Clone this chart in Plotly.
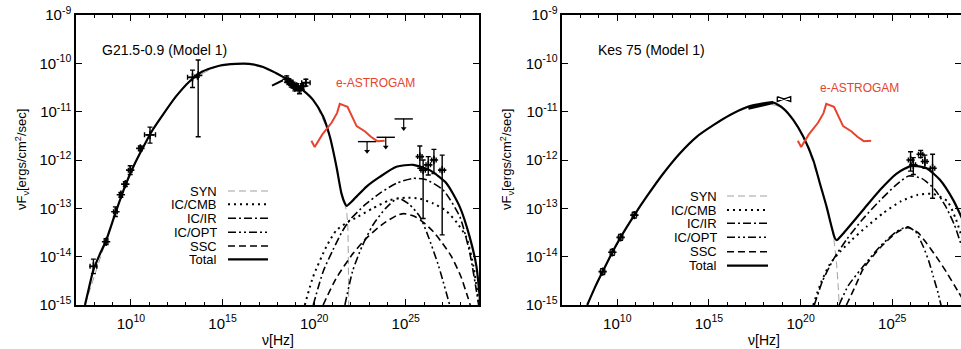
import numpy as np
import plotly.graph_objects as go

# ================= G21.5-0.9 (left panel), values as log10 =================
g21_total_lognu = [7.49, 7.7, 7.95, 8.3, 8.64, 9.15, 9.7, 10.18, 10.73, 11.18, 11.73, 12.45, 13.18, 13.9,
                   14.82, 15.73, 16.45, 17.18, 17.91, 18.3, 18.8, 19.4, 19.95, 20.49, 20.86, 21.22, 21.49,
                   21.68, 21.77, 22.13, 22.86, 23.58, 24.49, 25.4, 26.31, 27.22, 27.95, 28.49, 28.86, 29.1]
g21_total_logF = [-15.0, -14.66, -14.27, -13.95, -13.67, -13.1, -12.52, -12.1, -11.69, -11.38, -11.07, -10.69,
                  -10.38, -10.17, -10.05, -10.01, -10.01, -10.07, -10.2, -10.28, -10.4, -10.56, -10.76, -11.10,
                  -11.52, -12.14, -12.69, -12.90, -12.95, -12.83, -12.55, -12.35, -12.14, -12.10, -12.21, -12.48,
                  -12.97, -13.59, -14.2, -15.1]
g21_syn_lognu = [7.49, 8.64, 9.7, 10.73, 11.73, 13.18, 14.82, 16.45, 17.91, 18.8, 19.95, 20.86, 21.22, 21.49,
                 21.68, 21.78, 21.84, 21.87, 21.89]
g21_syn_logF = [-15.0, -13.67, -12.52, -11.69, -11.07, -10.38, -10.05, -10.01, -10.2, -10.4, -10.76, -11.52,
                -12.14, -12.69, -12.92, -13.1, -13.4, -14.2, -15.1]
g21_cmb_lognu = [19.49, 19.95, 20.67, 21.22, 21.77, 22.4, 23.2, 24.13, 25.0, 25.76, 26.5, 27.2, 27.8, 28.31, 28.7, 29.0]
g21_cmb_logF = [-15.0, -14.41, -13.79, -13.45, -13.3, -13.17, -13.0, -12.83, -12.78, -12.8, -12.9, -13.05, -13.3,
                -13.6, -14.2, -15.0]
g21_ir_lognu = [19.95, 20.5, 21.04, 21.5, 21.95, 22.8, 23.58, 24.5, 25.4, 26.13, 27.04, 27.95, 28.5, 28.9, 29.1]
g21_ir_logF = [-15.0, -14.3, -13.85, -13.5, -13.24, -12.92, -12.69, -12.48, -12.38, -12.41, -12.62, -13.17,
               -13.93, -14.8, -15.3]
g21_opt_lognu = [21.68, 22.1, 22.6, 23.2, 23.9, 24.58, 25.2, 25.77, 26.2, 26.8, 27.4]
g21_opt_logF = [-15.0, -14.3, -13.8, -13.35, -13.0, -12.79, -12.92, -13.17, -13.55, -14.2, -15.0]
g21_ssc_lognu = [20.49, 21.2, 22.13, 22.9, 23.76, 24.5, 24.9, 25.5, 26.0, 26.5, 27.0, 27.5, 28.0, 28.4, 28.6]
g21_ssc_logF = [-15.0, -14.45, -13.93, -13.6, -13.32, -13.15, -13.11, -13.17, -13.3, -13.48, -13.72, -14.0,
                -14.4, -14.85, -15.1]

# measured points (radio/IR/optical)
g21_pts_lognu = [7.95, 8.64, 9.15, 9.45, 9.69, 9.96, 10.51, 11.04, 13.36, 13.67]
g21_pts_logF = [-14.2, -13.69, -13.07, -12.72, -12.5, -12.21, -11.76, -11.48, -10.29, -10.25]
g21_pts_logF_lo = [-14.35, -13.75, -13.17, -12.77, -12.55, -12.3, -11.81, -11.65, -10.5, -11.52]
g21_pts_logF_hi = [-14.05, -13.63, -12.97, -12.67, -12.45, -12.12, -11.71, -11.32, -10.14, -9.93]
g21_pts_lognu_err = [0.18, 0.1, 0.1, 0.08, 0.08, 0.1, 0.08, 0.3, 0.27, 0.05]
# X-ray points
g21_x_lognu = [18.5, 18.62, 18.75, 18.85, 18.95, 19.05, 19.2, 19.35, 19.55]
g21_x_logF = [-10.33, -10.38, -10.42, -10.45, -10.5, -10.48, -10.55, -10.48, -10.4]
g21_x_logF_err = [0.07, 0.06, 0.07, 0.06, 0.07, 0.06, 0.08, 0.06, 0.07]
g21_x_lognu_err = [0.08, 0.08, 0.08, 0.08, 0.08, 0.08, 0.08, 0.08, 0.23]
g21_xbow_lognu = [17.7, 18.3]
g21_xbow_logF = [-10.46, -10.35]
# gamma-ray points
g21_g_lognu = [25.77, 25.95, 26.23, 26.54, 26.99]
g21_g_logF = [-11.93, -12.21, -12.10, -12.0, -12.21]
g21_g_logF_lo = [-12.17, -13.21, -12.31, -12.28, -13.55]
g21_g_logF_hi = [-11.71, -12.0, -11.93, -11.78, -11.9]
# upper limits
g21_ul_lognu = [22.89, 23.91, 24.89]
g21_ul_logF = [-11.62, -11.53, -11.15]

# ================= Kes 75 (right panel), values as log10 =================
kes_total_lognu = [8.36, 8.8, 9.2, 9.73, 10.18, 10.93, 11.6, 12.51, 13.42, 14.33, 15.24, 16.15, 17.05, 17.96,
                   18.51, 19.05, 19.6, 20.15, 20.69, 21.05, 21.42, 21.69, 21.87, 21.97, 22.33, 23.42, 24.33,
                   25.24, 26.05, 26.87, 27.6, 28.33, 28.8]
kes_total_logF = [-15.0, -14.62, -14.31, -13.91, -13.6, -13.14, -12.76, -12.28, -11.86, -11.52, -11.28, -11.07,
                  -10.91, -10.83, -10.81, -10.93, -11.17, -11.52, -12.0, -12.48, -12.97, -13.38, -13.62, -13.66,
                  -13.52, -13.03, -12.62, -12.28, -12.12, -12.17, -12.41, -12.83, -13.2]
kes_syn_lognu = [8.36, 9.73, 10.93, 12.51, 14.33, 16.15, 17.96, 19.05, 20.15, 21.05, 21.42, 21.69, 21.8, 21.95,
                 22.05, 22.12]
kes_syn_logF = [-15.0, -13.91, -13.14, -12.28, -11.52, -11.07, -10.83, -10.93, -11.52, -12.48, -12.97, -13.38,
                -13.6, -14.1, -14.6, -15.1]
kes_cmb_lognu = [20.69, 21.1, 21.6, 22.15, 22.8, 23.6, 24.5, 25.5, 26.4, 27.2, 28.0, 28.45, 28.8]
kes_cmb_logF = [-15.0, -14.55, -14.15, -13.9, -13.65, -13.38, -13.1, -12.85, -12.72, -12.7, -12.85, -13.2, -13.6]
kes_ir_lognu = [20.75, 21.2, 21.8, 22.5, 23.4, 24.3, 25.2, 25.9, 26.6, 27.3, 27.9, 28.4, 28.8]
kes_ir_logF = [-15.0, -14.5, -14.05, -13.65, -13.22, -12.85, -12.52, -12.33, -12.38, -12.6, -12.95, -13.35, -13.8]
kes_opt_lognu = [22.1, 22.6, 23.42, 24.33, 25.24, 25.84, 26.3, 26.69, 27.0, 27.24, 27.5, 27.69]
kes_opt_logF = [-15.0, -14.6, -14.2, -13.79, -13.48, -13.38, -13.5, -13.79, -14.1, -14.41, -14.75, -15.05]
kes_ssc_lognu = [22.5, 23.0, 23.42, 24.33, 25.24, 25.84, 26.4, 26.87, 27.4, 27.96, 28.4, 28.8]
kes_ssc_logF = [-15.0, -14.6, -14.25, -13.82, -13.5, -13.4, -13.5, -13.72, -14.0, -14.32, -14.6, -14.85]

kes_radio_lognu = [9.2, 9.73, 10.18, 10.93]
kes_radio_logF = [-14.31, -13.91, -13.6, -13.14]
kes_xline_lognu = [17.15, 18.51]
kes_xline_logF = [-10.93, -10.81]
kes_bowtie_lognu = [18.73, 19.46, 19.46, 18.73, 18.73]
kes_bowtie_logF = [-10.69, -10.79, -10.69, -10.79, -10.69]
kes_g_lognu = [26.0, 26.15, 26.55, 26.78, 27.2]
kes_g_logF = [-12.0, -12.1, -11.88, -12.03, -12.17]
kes_g_logF_lo = [-12.23, -12.3, -11.95, -12.17, -12.79]
kes_g_logF_hi = [-11.83, -11.95, -11.8, -11.9, -11.88]

# ================= e-ASTROGAM sensitivity (both panels) =================
eastro_lognu = [19.85, 20.03, 20.45, 20.95, 21.25, 21.4, 21.82, 22.05, 22.32, 22.78, 23.1, 23.45, 23.85]
eastro_logF = [-11.6, -11.73, -11.47, -11.23, -11.03, -10.84, -10.9, -11.08, -11.3, -11.41, -11.52, -11.61, -11.6]

legend_labels = ["SYN", "IC/CMB", "IC/IR", "IC/OPT", "SSC", "Total"]
tick_x_exp = [10, 15, 20, 25]
tick_y_exp = [-15, -14, -13, -12, -11, -10, -9]


def P(a):
    return 10 ** np.asarray(a, dtype=float)


RED = "#e8432d"
FONT = "Liberation Sans, Arial, Helvetica, sans-serif"
styles = {
    "SYN": dict(color="#a0a0a0", width=1, dash="7px,4px"),
    "IC/CMB": dict(color="black", width=2, dash="2px,4px"),
    "IC/IR": dict(color="black", width=1.6, dash="8px,3px,2px,3px"),
    "IC/OPT": dict(color="black", width=1.6, dash="8px,3px,2px,3px,2px,3px"),
    "SSC": dict(color="black", width=1.6, dash="7px,4px"),
    "Total": dict(color="black", width=2.2),
}

fig = go.Figure()


def curve(lx, ly, key, xa, ya):
    fig.add_trace(go.Scatter(x=P(lx), y=P(ly), mode="lines", line=dict(shape="spline", smoothing=0.6, **styles[key]),
                             xaxis=xa, yaxis=ya, showlegend=False, hoverinfo="skip"))


def points(lx, ly, lo, hi, xerr, xa, ya):
    x = P(lx)
    y = P(ly)
    xe = np.asarray(xerr, dtype=float)
    fig.add_trace(go.Scatter(
        x=x, y=y, mode="markers", xaxis=xa, yaxis=ya, showlegend=False,
        marker=dict(symbol="cross-thin", size=6, line=dict(width=1.6, color="black"), color="black"),
        error_y=dict(type="data", symmetric=False, array=P(hi) - y, arrayminus=y - P(lo),
                     width=2.5, thickness=1.4, color="black"),
        error_x=dict(type="data", symmetric=False, array=x * (10 ** xe - 1), arrayminus=x * (1 - 10 ** -xe),
                     width=2.5, thickness=1.4, color="black")))


# ---------- left panel ----------
for lx, ly, k in [(g21_syn_lognu, g21_syn_logF, "SYN"), (g21_cmb_lognu, g21_cmb_logF, "IC/CMB"),
                  (g21_ir_lognu, g21_ir_logF, "IC/IR"), (g21_opt_lognu, g21_opt_logF, "IC/OPT"),
                  (g21_ssc_lognu, g21_ssc_logF, "SSC"), (g21_total_lognu, g21_total_logF, "Total")]:
    curve(lx, ly, k, "x", "y")

points(g21_pts_lognu, g21_pts_logF, g21_pts_logF_lo, g21_pts_logF_hi, g21_pts_lognu_err, "x", "y")
points(g21_x_lognu, g21_x_logF, np.subtract(g21_x_logF, g21_x_logF_err), np.add(g21_x_logF, g21_x_logF_err),
       g21_x_lognu_err, "x", "y")
points(g21_g_lognu, g21_g_logF, g21_g_logF_lo, g21_g_logF_hi, [0.12] * len(g21_g_lognu), "x", "y")
fig.add_trace(go.Scatter(x=P(g21_xbow_lognu), y=P(g21_xbow_logF), mode="lines", line=dict(color="black", width=2),
                         xaxis="x", yaxis="y", showlegend=False))
# upper limits: horizontal bar + downward arrow
ulx = P(g21_ul_lognu)
uly = P(g21_ul_logF)
fig.add_trace(go.Scatter(
    x=ulx, y=uly, mode="markers", marker=dict(size=1, color="black"), xaxis="x", yaxis="y", showlegend=False,
    error_x=dict(type="data", symmetric=False, array=ulx * (10 ** 0.5 - 1), arrayminus=ulx * (1 - 10 ** -0.5),
                 width=0, thickness=1.4, color="black"),
    error_y=dict(type="data", symmetric=False, array=uly * 0, arrayminus=uly * (1 - 10 ** -0.2),
                 width=0, thickness=1.2, color="black")))
fig.add_trace(go.Scatter(x=ulx, y=uly * 10 ** -0.2, mode="markers", xaxis="x", yaxis="y", showlegend=False,
                         marker=dict(symbol="triangle-down", size=5, color="black")))
fig.add_trace(go.Scatter(x=P(eastro_lognu), y=P(eastro_logF), mode="lines", line=dict(color=RED, width=2),
                         xaxis="x", yaxis="y", showlegend=False))

# ---------- right panel ----------
for lx, ly, k in [(kes_syn_lognu, kes_syn_logF, "SYN"), (kes_cmb_lognu, kes_cmb_logF, "IC/CMB"),
                  (kes_ir_lognu, kes_ir_logF, "IC/IR"), (kes_opt_lognu, kes_opt_logF, "IC/OPT"),
                  (kes_ssc_lognu, kes_ssc_logF, "SSC"), (kes_total_lognu, kes_total_logF, "Total")]:
    curve(lx, ly, k, "x2", "y2")

points(kes_radio_lognu, kes_radio_logF, np.subtract(kes_radio_logF, 0.06), np.add(kes_radio_logF, 0.06),
       [0.12] * len(kes_radio_lognu), "x2", "y2")
points(kes_g_lognu, kes_g_logF, kes_g_logF_lo, kes_g_logF_hi, [0.12] * len(kes_g_lognu), "x2", "y2")
fig.add_trace(go.Scatter(x=P(kes_xline_lognu), y=P(kes_xline_logF), mode="lines", line=dict(color="black", width=3),
                         xaxis="x2", yaxis="y2", showlegend=False))
fig.add_trace(go.Scatter(x=P(kes_bowtie_lognu), y=P(kes_bowtie_logF), mode="lines",
                         line=dict(color="black", width=1.4), xaxis="x2", yaxis="y2", showlegend=False))
fig.add_trace(go.Scatter(x=P(eastro_lognu), y=P(eastro_logF), mode="lines", line=dict(color=RED, width=2),
                         xaxis="x2", yaxis="y2", showlegend=False))

# ---------- axes ----------
W, H = 961, 349
ydom = [1 - 305 / H, 1 - 15 / H]


def xax(dom, rng):
    return dict(type="log", range=rng, domain=dom, showline=True, linecolor="black", linewidth=1.5,
                mirror="allticks", ticks="inside", ticklen=6, tickwidth=1.2, tickcolor="black",
                tickvals=[10.0 ** e for e in tick_x_exp], ticktext=["10<sup>%d</sup>" % e for e in tick_x_exp],
                minor=dict(ticks="inside", ticklen=3, tickwidth=1.2, tickcolor="black",
                           tickvals=[10.0 ** e for e in range(7, 30)]),
                automargin=False, ticklabelstandoff=4,
                showgrid=False, zeroline=False, tickfont=dict(size=15, color="black", family=FONT))


def yax(anchor):
    return dict(type="log", range=[-15, -9], domain=ydom, anchor=anchor, showline=True, linecolor="black",
                linewidth=1.5, mirror="allticks", ticks="inside", ticklen=6, tickwidth=1.2, tickcolor="black",
                tickvals=[10.0 ** e for e in tick_y_exp], ticktext=["10<sup>%d</sup>" % e for e in tick_y_exp],
                automargin=False,
                showgrid=False, zeroline=False, tickfont=dict(size=15, color="black", family=FONT))


xa1 = xax([76 / W, 479 / W], [7, 29])
xa1["anchor"] = "y"
xa2 = xax([562.3 / W, 1.0], [7, 7 + (961 - 562.3) / 18.33])
xa2["anchor"] = "y2"

annotations = []
shapes = []
panels = [
    dict(title="G21.5-0.9 (Model 1)", tx=100, ty=50, ex=334, ey=83, lx=218, l0=228, l1=268,
         rows=[191, 204.3, 218.3, 232.3, 246, 259.3], ylab=22, xlab=278),
    dict(title="Kes 75 (Model 1)", tx=596, ty=50, ex=818, ey=88, lx=718, l0=727, l1=768,
         rows=[196, 210, 223.3, 237.3, 251.7, 265.7], ylab=507, xlab=764),
]
for p in panels:
    annotations.append(dict(text=p["title"], x=p["tx"] / W, y=1 - p["ty"] / H, xref="paper", yref="paper",
                            xanchor="left", yanchor="middle", showarrow=False,
                            font=dict(size=14, color="black", family=FONT)))
    annotations.append(dict(text="e-ASTROGAM", x=p["ex"] / W, y=1 - p["ey"] / H, xref="paper", yref="paper",
                            xanchor="left", yanchor="middle", showarrow=False,
                            font=dict(size=12, color=RED, family=FONT)))
    annotations.append(dict(text="νF<sub>ν</sub>[ergs/cm<sup>2</sup>/sec]", x=p["ylab"] / W, y=1 - 160 / H,
                            xref="paper", yref="paper", textangle=-90, xanchor="center", yanchor="middle",
                            showarrow=False, font=dict(size=13, color="black", family=FONT)))
    annotations.append(dict(text="ν[Hz]", x=p["xlab"] / W, y=1 - 340 / H, xref="paper", yref="paper",
                            xanchor="center", yanchor="middle", showarrow=False,
                            font=dict(size=14, color="black", family=FONT)))
    for lab, ry in zip(legend_labels, p["rows"]):
        annotations.append(dict(text=lab, x=p["lx"] / W, y=1 - ry / H, xref="paper", yref="paper",
                                xanchor="right", yanchor="middle", showarrow=False, borderpad=0,
                                height=13, valign="middle",
                                font=dict(size=13, color="black", family=FONT)))
        st = styles[lab]
        shapes.append(dict(type="line", xref="paper", yref="paper", x0=p["l0"] / W, x1=p["l1"] / W,
                           y0=1 - ry / H, y1=1 - ry / H,
                           line=dict(color=st["color"], width=st["width"], dash=st.get("dash", "solid"))))

fig.update_layout(
    width=W, height=H, margin=dict(l=0, r=0, t=0, b=0, pad=0), autosize=False,
    paper_bgcolor="white", plot_bgcolor="white",
    xaxis=xa1, yaxis=yax("x"), xaxis2=xa2, yaxis2=yax("x2"),
    annotations=annotations, shapes=shapes,
    font=dict(family=FONT, color="black"), showlegend=False,
)

fig.write_html("out.html", config={"displayModeBar": False},
               post_script="document.body.style.margin='0';document.body.style.overflow='hidden';")
